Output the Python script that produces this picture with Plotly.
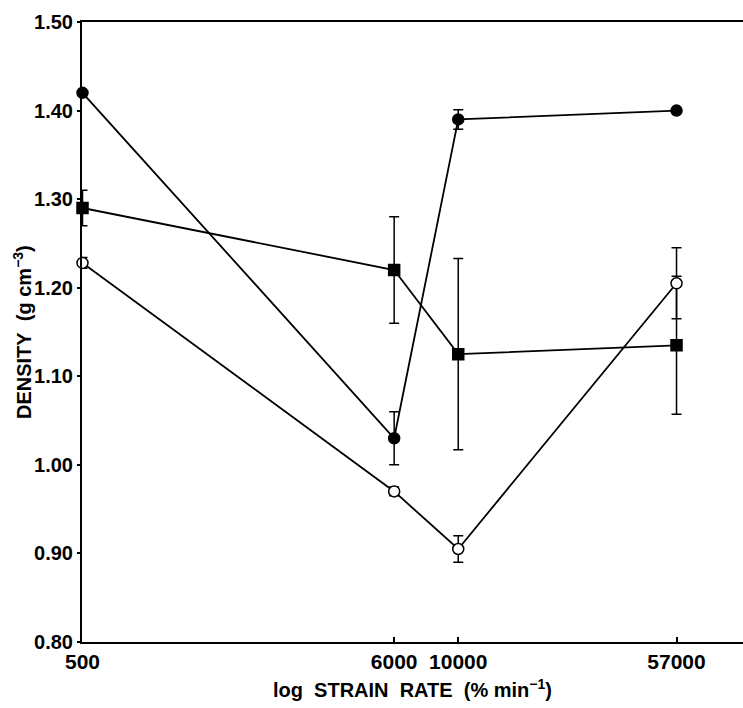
import math
import plotly.graph_objects as go

# Strain rates (% min^-1) and measured densities (g cm^-3)
strain_rate = [500, 6000, 10000, 57000]
tick_labels = ["500", "6000", "10000", "57000"]

density_solid_circle = [1.42, 1.03, 1.39, 1.40]
err_solid_circle = [0.0, 0.03, 0.011, 0.0]

density_square = [1.29, 1.22, 1.125, 1.135]
err_square = [0.02, 0.06, 0.108, 0.078]

density_open_circle = [1.228, 0.97, 0.905, 1.205]
err_open_circle = [0.006, 0.005, 0.015, 0.04]

y_ticks = [0.80, 0.90, 1.00, 1.10, 1.20, 1.30, 1.40, 1.50]

FONT = "Liberation Sans"


def series(y, err, symbol, fill):
    return go.Scatter(
        x=strain_rate,
        y=y,
        mode="lines+markers",
        line=dict(color="black", width=1.8),
        marker=dict(symbol=symbol, size=11, color=fill,
                    line=dict(color="black", width=1.5)),
        error_y=dict(type="data", array=err, visible=True,
                     color="black", thickness=1.5, width=5),
        cliponaxis=False,
        showlegend=False,
    )


fig = go.Figure()
fig.add_trace(series(density_solid_circle, err_solid_circle, "circle", "black"))
fig.add_trace(series(density_square, err_square, "square", "black"))
fig.add_trace(series(density_open_circle, err_open_circle, "circle", "white"))

# log axis: ~288.8 px per decade, starting a hair below 500 so the first points stay visible
px_per_decade = 288.8
x_lo = math.log10(500) - 0.5 / px_per_decade
x_hi = x_lo + 661 / px_per_decade

plot_h = 708 - 22 - 66
plot_w = 743 - 82

fig.update_layout(
    width=743,
    height=708,
    margin=dict(l=82, r=0, t=22, b=66),
    paper_bgcolor="white",
    plot_bgcolor="white",
    font=dict(family=FONT, color="black"),
    xaxis=dict(
        type="log",
        range=[x_lo, x_hi],
        tickvals=strain_rate,
        ticktext=tick_labels,
        ticks="inside",
        ticklen=5,
        tickwidth=1.5,
        tickcolor="black",
        tickfont=dict(family=FONT, size=21, weight="bold"),
        showgrid=False,
        zeroline=False,
        showline=True,
        linecolor="black",
        linewidth=2,
        mirror=True,
    ),
    yaxis=dict(
        range=[0.80, 1.50],
        tickvals=y_ticks,
        tickformat=".2f",
        ticks="outside",
        ticklen=3,
        tickwidth=1.5,
        tickcolor="black",
        tickfont=dict(family=FONT, size=20, weight="bold"),
        showgrid=False,
        zeroline=False,
        showline=True,
        linecolor="black",
        linewidth=2,
    ),
    annotations=[
        dict(
            text="log\u00a0\u00a0STRAIN\u00a0\u00a0RATE\u00a0\u00a0(%\u00a0min<sup>\u22121</sup>)",
            xref="paper", yref="paper",
            x=0.5, y=-(688 - 642) / plot_h,
            xanchor="center", yanchor="middle",
            showarrow=False,
            font=dict(family=FONT, size=20, weight="bold"),
        ),
        dict(
            text="DENSITY\u00a0\u00a0(g\u00a0cm<sup>\u22123</sup>)",
            xref="paper", yref="paper",
            x=(22 - 82) / plot_w, y=0.5,
            xanchor="center", yanchor="middle",
            textangle=-90,
            showarrow=False,
            font=dict(family=FONT, size=20, weight="bold"),
        ),
    ],
)

fig.write_html("out.html")
